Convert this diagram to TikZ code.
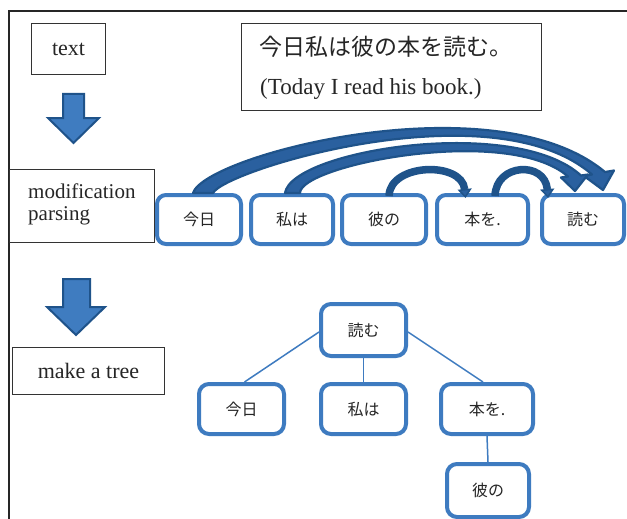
\documentclass[tikz,border=0pt]{standalone}
\usepackage{fontspec}
\setmainfont{Liberation Serif}
\newfontfamily\cjk{Noto Sans CJK JP}
\usetikzlibrary{arrows.meta}
\definecolor{boxblue}{HTML}{3E7BC0}
\definecolor{darkblue}{HTML}{1F538A}
\definecolor{fillblue}{HTML}{3F7CC0}
\definecolor{bandfill}{HTML}{2A609F}
\definecolor{txt}{HTML}{262626}
\begin{document}
\begin{tikzpicture}[x=1pt,y=-1pt,
  bluebox/.style={draw=boxblue,line width=4pt,rounded corners=9pt,fill=white,text=txt,
    font=\cjk\fontsize{16}{18}\selectfont,inner sep=0pt},
  plainbox/.style={draw=black!80,line width=1pt,fill=white,text=txt,inner sep=0pt},
  link/.style={draw=boxblue,line width=1.5pt},
  band/.style={draw=darkblue,line width=2.2pt,fill=bandfill,line join=round},
  smallarc/.style={draw=darkblue,line width=7.5pt,
    -{Triangle[length=9pt,width=14pt,fill=bandfill,line width=1.5pt]}},
  blockarrow/.style={draw=darkblue,line width=2pt,fill=fillblue,line join=miter}
]
\useasboundingbox (0,0) rectangle (627,519);
\fill[white] (0,0) rectangle (627,519);

% frame
\draw[line width=1.8pt,black!85] (627,11) -- (9,11) -- (9,519);

% left column
\node[plainbox,minimum width=74pt,minimum height=51pt,font=\fontsize{22}{24}\selectfont] (ltext) at (68.5,49) {text};
\draw[blockarrow] (63,94) -- (84,94) -- (84,118) -- (99,118) -- (73.5,143) -- (48,118) -- (63,118) -- cycle;
\node[plainbox,minimum width=145pt,minimum height=73pt] (lmod) at (82,206) {};
\node[anchor=base west,inner sep=0pt,text=txt,font=\fontsize{21}{22}\selectfont] (lmod1) at (28,198) {modification};
\node[anchor=base west,inner sep=0pt,text=txt,font=\fontsize{21}{22}\selectfont] (lmod2) at (28,220) {parsing};
\draw[blockarrow] (63,279) -- (90,279) -- (90,307) -- (105,307) -- (76,335) -- (47,307) -- (63,307) -- cycle;
\node[plainbox,minimum width=152pt,minimum height=47pt,font=\fontsize{22}{24}\selectfont] (ltree) at (88.5,371) {make a tree};

% sentence box
\node[plainbox,minimum width=300pt,minimum height=87pt] (sent) at (391.5,67) {};
\node[anchor=base west,inner sep=0pt,text=txt,font=\cjk\fontsize{23}{24}\selectfont] (s1) at (259,56) {今日私は彼の本を読む。};
\node[anchor=base west,inner sep=0pt,text=txt,font=\fontsize{23}{24}\selectfont] (s2) at (260,95) {(Today I read his book.)};

% row of words
\node[bluebox,minimum width=84pt,minimum height=49pt] (r1) at (199,219.5) {今日};
\node[bluebox,minimum width=82pt,minimum height=49pt] (r2) at (292,219.5) {私は};
\node[bluebox,minimum width=84pt,minimum height=49pt] (r3) at (384,219.5) {彼の};
\node[bluebox,minimum width=91pt,minimum height=49pt] (r4) at (482.5,219.5) {本を.};
\node[bluebox,minimum width=82pt,minimum height=49pt] (r5) at (583,219.5) {読む};

% dependency arcs (curved block arrows)
\draw[band] (193,193) .. controls (205,155) and (495,80) .. (605,172)
  -- (614,170.5) -- (603,190) -- (584,176) -- (592,174.5)
  .. controls (492,88) and (225,170) .. (213,193) -- cycle;
\draw[band] (285,193) .. controls (292,150) and (515,115) .. (581,175.5)
  -- (588,174.5) -- (575,191) -- (561,177.5) -- (568,176.5)
  .. controls (508,124) and (300,165) .. (300,193) -- cycle;
\draw[smallarc] ([xshift=5pt,yshift=-3pt]r3.north) .. controls (390,163) and (462,161) .. ([xshift=-17pt,yshift=-5pt]r4.north);
\draw[smallarc] ([xshift=12.5pt,yshift=-3pt]r4.north) .. controls (496,163) and (545,161) .. ([xshift=-35pt,yshift=-5pt]r5.north);

% tree
\node[bluebox,rounded corners=10pt,minimum width=85pt,minimum height=52pt] (t1) at (363.5,330) {読む};
\node[bluebox,rounded corners=10pt,minimum width=85pt,minimum height=50pt] (t2) at (241.5,409) {今日};
\node[bluebox,rounded corners=10pt,minimum width=85pt,minimum height=50pt] (t3) at (363.5,409) {私は};
\node[bluebox,rounded corners=10pt,minimum width=92pt,minimum height=50pt] (t4) at (487,409) {本を.};
\node[bluebox,rounded corners=10pt,minimum width=82pt,minimum height=53pt] (t5) at (488,490.5) {彼の};

\draw[link] ([yshift=-2pt]t1.west) -- ([xshift=3pt]t2.north);
\draw[link] (t1.south) -- (t3.north);
\draw[link] ([yshift=-2pt]t1.east) -- ([xshift=-4pt]t4.north);
\draw[link] (t4.south) -- (t5.north);
\end{tikzpicture}
\end{document}
